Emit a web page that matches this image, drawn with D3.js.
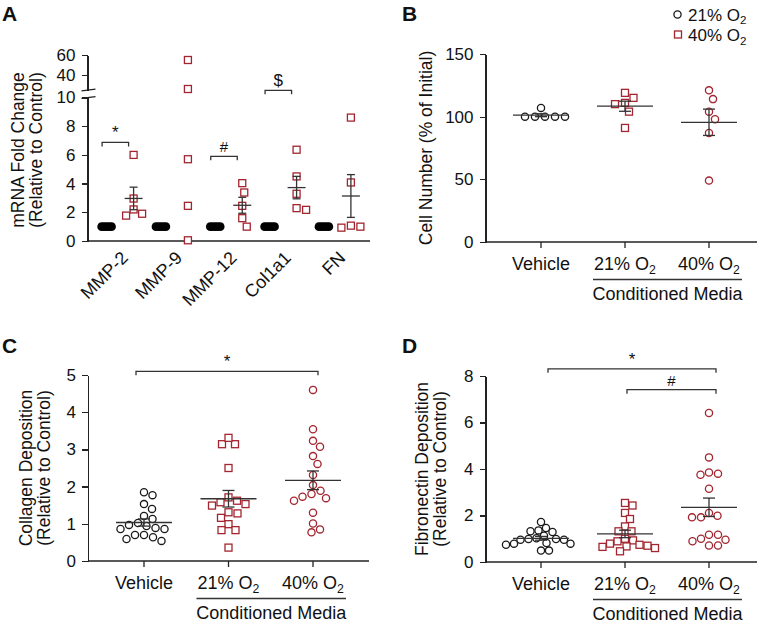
<!DOCTYPE html>
<meta charset="utf-8">
<style>
body { margin: 0; background: #fff; }
svg text { font-family: "Liberation Sans", Arial, Helvetica, sans-serif; fill: #111; }
.axis path, .axis line { fill: none; stroke: #222; stroke-width: 1.3px; shape-rendering: crispEdges; }
.axis text { font-size: 17px; font-family: "Liberation Sans", Arial, sans-serif; fill: #111; }
.panel-label { font-size: 21px; font-weight: bold; }
.cat { font-size: 18px; }
.ytitle { font-size: 17.5px; }
.stat line, path.bracket, .rule { stroke: #333; stroke-width: 1.3px; fill: none; }
</style>
<svg id="fig" width="760" height="625"></svg>
<script src="https://d3js.org/d3.v7.min.js"></script>
<script>

var svg = d3.select("#fig");
var red = "#a3252f", ink = "#1a1a1a";

// ---- data ----
var genes = ["MMP-2", "MMP-9", "MMP-12", "Col1a1", "FN"];
var geneSig = ["*", "", "#", "$", ""];
var mrna21 = [[1, 1, 1, 1, 1], [1, 1, 1, 1, 1], [1, 1, 1, 1, 1], [1, 1, 1, 1, 1], [1, 1, 1, 1, 1]];
var mrna40 = [
  [6.0, 2.96, 2.2, 1.77, 1.9],
  [55, 26, 5.7, 2.45, 0.05],
  [4.03, 3.38, 2.45, 1.59, 1.0],
  [6.36, 4.5, 3.29, 2.29, 2.17],
  [8.6, 4.08, 1.07, 1.0, 0.93]
];
var mrnaShowMean = [true, false, true, true, true];

var groups = ["Vehicle", "21% O2", "40% O2"];

var cellVehicle = [100, 100, 100, 100, 100, 107];
var cell21 = [119, 115, 111, 110, 104, 91];
var cell40 = [121, 114, 104, 98, 87, 49];

var collVehicle = [1.77, 1.85, 1.53, 1.40, 1.21, 1.13, 1.02, 0.94, 0.86, 0.86, 0.89, 0.97, 0.70, 0.64, 0.54, 0.59, 0.70];
var coll21 = [3.14, 3.14, 3.31, 2.5, 1.62, 1.53, 1.49, 1.58, 1.71, 1.31, 1.28, 1.16, 0.99, 0.83, 0.83, 0.36];
var coll40 = [4.6, 3.54, 3.23, 3.07, 2.82, 2.61, 2.31, 2.04, 1.73, 1.62, 1.69, 1.89, 1.80, 1.30, 1.01, 0.77, 0.85];

var fibVehicle = [1.72, 1.46, 1.36, 1.32, 1.29, 1.13, 0.99, 0.96, 0.96, 0.99, 1.02, 0.79, 0.74, 0.79, 0.82, 0.49, 0.49];
var fib21 = [2.54, 2.43, 2.11, 1.85, 1.53, 1.32, 1.32, 1.0, 0.93, 0.89, 0.79, 0.74, 0.70, 0.67, 0.65, 0.60, 0.46];
var fib40 = [6.41, 4.5, 3.85, 3.75, 3.8, 3.15, 1.99, 1.92, 1.92, 2.11, 1.17, 1.17, 1.0, 0.89, 0.71, 0.71, 0.96];

// ---- helpers ----
function sem(v) { return d3.deviation(v) / Math.sqrt(v.length); }

// greedy beeswarm: offsets from group centre so markers don't overlap
function swarm(values, y, minDist) {
  var order = d3.range(values.length).sort(function(a, b) { return values[b] - values[a]; });
  var placed = [], xs = [];
  order.forEach(function(i) {
    var py = y(values[i]);
    for (var k = 0; k < 2000; k++) {
      var off = (k % 2 ? 1 : -1) * Math.ceil(k / 2) * 0.5;
      var ok = placed.every(function(p) {
        var dx = p[0] - off, dy = p[1] - py;
        return dx * dx + dy * dy >= minDist * minDist;
      });
      if (ok) { placed.push([off, py]); xs[i] = off; break; }
    }
  });
  return xs;
}

var half = 3.5; // half side of the square marker

function drawPoints(g, values, cx, y, shape, color, minDist) {
  var offs = swarm(values, y, minDist);
  var sel = g.append("g").selectAll(null).data(values).enter();
  if (shape === "square") {
    sel.append("rect")
      .attr("x", function(d, i) { return cx + offs[i] - half; })
      .attr("y", function(d) { return y(d) - half; })
      .attr("width", half * 2).attr("height", half * 2)
      .attr("fill", "#fff").attr("stroke", color).attr("stroke-width", 1.3);
  } else if (shape === "dot") {
    sel.append("circle")
      .attr("cx", function(d, i) { return cx + offs[i]; })
      .attr("cy", y)
      .attr("r", 4.3).attr("fill", "#000");
  } else {
    sel.append("circle")
      .attr("cx", function(d, i) { return cx + offs[i]; })
      .attr("cy", y)
      .attr("r", 3.6).attr("fill", "#fff").attr("stroke", color).attr("stroke-width", 1.3);
  }
}

function drawStat(g, values, cx, y, hw, cap) {
  var m = d3.mean(values), s = sem(values);
  var st = g.append("g").attr("class", "stat");
  st.append("line").attr("x1", cx - hw).attr("x2", cx + hw).attr("y1", y(m)).attr("y2", y(m));
  st.append("line").attr("x1", cx).attr("x2", cx).attr("y1", y(m - s)).attr("y2", y(m + s));
  [m - s, m + s].forEach(function(v) {
    st.append("line").attr("x1", cx - cap).attr("x2", cx + cap).attr("y1", y(v)).attr("y2", y(v));
  });
}

// text with a trailing "2" in O2 drawn as subscript
function subText(sel, label) {
  if (/O2$/.test(label)) {
    sel.append("tspan").text(label.slice(0, -1));
    sel.append("tspan").text("2").attr("font-size", "0.68em").attr("dy", "0.32em");
  } else {
    sel.text(label);
  }
}

function bracket(g, x1, x2, yy, mark, markSize) {
  g.append("path").attr("class", "bracket")
    .attr("d", "M" + x1 + "," + (yy + 4) + "V" + yy + "H" + x2 + "V" + (yy + 4));
  g.append("text").attr("x", (x1 + x2) / 2).attr("y", yy - 4)
    .attr("text-anchor", "middle").style("font-size", markSize + "px").text(mark);
}

function yTitle(lines, xs, cy) {
  lines.forEach(function(t, i) {
    svg.append("text").attr("class", "ytitle")
      .attr("transform", "translate(" + xs[i] + "," + cy + ") rotate(-90)")
      .attr("text-anchor", "middle").text(t);
  });
}

function xCategoryAxis(x, ax, axEnd, y0) {
  svg.append("line").attr("class", "rule")
    .attr("x1", ax).attr("x2", axEnd).attr("y1", y0).attr("y2", y0).style("stroke", "#222");
  groups.forEach(function(gname) {
    svg.append("line").attr("class", "rule").style("stroke", "#222")
      .attr("x1", x(gname)).attr("x2", x(gname)).attr("y1", y0).attr("y2", y0 + 6);
    var t = svg.append("text").attr("class", "cat")
      .attr("x", x(gname)).attr("y", y0 + 28).attr("text-anchor", "middle");
    subText(t, gname);
  });
  var a = x(groups[1]) - 32, b = x(groups[2]) + 33;
  svg.append("line").attr("class", "rule").attr("x1", a).attr("x2", b)
    .attr("y1", y0 + 37.5).attr("y2", y0 + 37.5);
  svg.append("text").attr("class", "cat").attr("x", (a + b) / 2).attr("y", y0 + 58)
    .attr("text-anchor", "middle").text("Conditioned Media");
}

function yAxis(scale, ax, ticks) {
  svg.append("g").attr("class", "axis")
    .attr("transform", "translate(" + ax + ",0)")
    .call(d3.axisLeft(scale).tickValues(ticks).tickFormat(d3.format("~g"))
      .tickSize(6).tickSizeOuter(0).tickPadding(6));
}

// ---- Panel A ----
var axA = 87.5;
var yLow = d3.scaleLinear().domain([0, 10]).range([241, 97.5]);
var yUp = d3.scaleLinear().domain([25, 60]).range([90, 55]);
function yA(v) { return v > 10 ? yUp(v) : yLow(v); }
var xA = d3.scaleBand().domain(genes).range([axA, 370]).paddingOuter(0.1);

yAxis(yLow, axA, [0, 2, 4, 6, 8, 10]);
yAxis(yUp, axA, [40, 60]);
[yUp(25), yLow(10)].forEach(function(yy) {
  svg.append("line").attr("class", "rule").style("stroke", "#222")
    .attr("x1", axA - 6).attr("x2", axA + 8).attr("y1", yy + 0.8).attr("y2", yy - 0.8);
});
svg.append("line").attr("class", "rule").style("stroke", "#222")
  .attr("x1", axA).attr("x2", 370).attr("y1", yLow(0)).attr("y2", yLow(0));

var gA = svg.append("g");
var sigLevel = [6.87, 0, 5.9, 10.5, 0];
genes.forEach(function(gene, i) {
  var c = xA(gene) + xA.bandwidth() / 2;
  drawPoints(gA, mrna21[i], c - 13.5, yA, "dot", "#000", 2.2);
  drawPoints(gA, mrna40[i], c + 13.5, yA, "square", red, 9.5);
  if (mrnaShowMean[i]) drawStat(gA, mrna40[i], c + 13.5, yA, 9, 4);
  if (geneSig[i]) bracket(gA, c - 18, c + 8.5, yLow(sigLevel[i]), geneSig[i], geneSig[i] === "#" ? 15 : 17);
  svg.append("text").attr("class", "cat")
    .attr("transform", "translate(" + (c + 9) + ",259) rotate(-45)")
    .attr("text-anchor", "end").text(gene);
});
yTitle(["mRNA Fold Change", "(Relative to Control)"], [23.5, 41.5], 150);
svg.append("text").attr("class", "panel-label").attr("x", 2).attr("y", 21).text("A");

// ---- Panel B ----
var axB = 485.5;
var yB = d3.scaleLinear().domain([0, 150]).range([242, 54]);
var xB = d3.scalePoint().domain(groups).range([541, 709]);
yAxis(yB, axB, [0, 50, 100, 150]);
xCategoryAxis(xB, axB, 757, yB(0));
var gB = svg.append("g");
drawPoints(gB, cellVehicle, xB(groups[0]), yB, "circle", ink, 9.6);
drawPoints(gB, cell21, xB(groups[1]), yB, "square", red, 9.6);
drawPoints(gB, cell40, xB(groups[2]), yB, "circle", red, 9.6);
drawStat(gB, cellVehicle, xB(groups[0]), yB, 28, 6);
drawStat(gB, cell21, xB(groups[1]), yB, 28, 6);
drawStat(gB, cell40, xB(groups[2]), yB, 28, 6);
yTitle(["Cell Number (% of Initial)"], [432], 148);
svg.append("text").attr("class", "panel-label").attr("x", 402).attr("y", 21).text("B");

// legend
var leg = svg.append("g");
leg.append("circle").attr("cx", 677.5).attr("cy", 14.5).attr("r", 3.6)
  .attr("fill", "#fff").attr("stroke", ink).attr("stroke-width", 1.3);
leg.append("rect").attr("x", 678 - half).attr("y", 34.5 - half).attr("width", half * 2).attr("height", half * 2)
  .attr("fill", "#fff").attr("stroke", red).attr("stroke-width", 1.3);
subText(leg.append("text").attr("x", 688).attr("y", 20.5).style("font-size", "17px"), "21% O2");
subText(leg.append("text").attr("x", 688).attr("y", 41).style("font-size", "17px"), "40% O2");

// ---- Panel C ----
var axC = 88;
var yC = d3.scaleLinear().domain([0, 5]).range([561, 375]);
var xC = d3.scalePoint().domain(groups).range([144, 313]);
yAxis(yC, axC, [0, 1, 2, 3, 4, 5]);
xCategoryAxis(xC, axC, 369, yC(0));
var gC = svg.append("g");
drawPoints(gC, collVehicle, xC(groups[0]), yC, "circle", ink, 9);
drawPoints(gC, coll21, xC(groups[1]), yC, "square", red, 9);
drawPoints(gC, coll40, xC(groups[2]), yC, "circle", red, 9);
drawStat(gC, collVehicle, xC(groups[0]), yC, 28, 6);
drawStat(gC, coll21, xC(groups[1]), yC, 28, 6);
drawStat(gC, coll40, xC(groups[2]), yC, 28, 6);
bracket(gC, xC(groups[0]) - 8, xC(groups[2]) + 5, yC(5.1), "*", 17);
yTitle(["Collagen Deposition", "(Relative to Control)"], [32, 50], 468);
svg.append("text").attr("class", "panel-label").attr("x", 2).attr("y", 353).text("C");

// ---- Panel D ----
var axD = 485.5;
var yD = d3.scaleLinear().domain([0, 8]).range([562, 376]);
var xD = d3.scalePoint().domain(groups).range([541, 709]);
yAxis(yD, axD, [0, 2, 4, 6, 8]);
xCategoryAxis(xD, axD, 757, yD(0));
var gD = svg.append("g");
drawPoints(gD, fibVehicle, xD(groups[0]), yD, "circle", ink, 7.6);
drawPoints(gD, fib21, xD(groups[1]), yD, "square", red, 7.8);
drawPoints(gD, fib40, xD(groups[2]), yD, "circle", red, 8.8);
drawStat(gD, fibVehicle, xD(groups[0]), yD, 28, 6);
drawStat(gD, fib21, xD(groups[1]), yD, 28, 6);
drawStat(gD, fib40, xD(groups[2]), yD, 28, 6);
bracket(gD, xD(groups[0]) + 7, xD(groups[2]) + 7, yD(8.31), "*", 17);
bracket(gD, xD(groups[1]) + 2, xD(groups[2]) + 7, yD(7.41), "#", 15);
yTitle(["Fibronectin Deposition", "(Relative to Control)"], [428, 446], 469);
svg.append("text").attr("class", "panel-label").attr("x", 402).attr("y", 353).text("D");

</script>
